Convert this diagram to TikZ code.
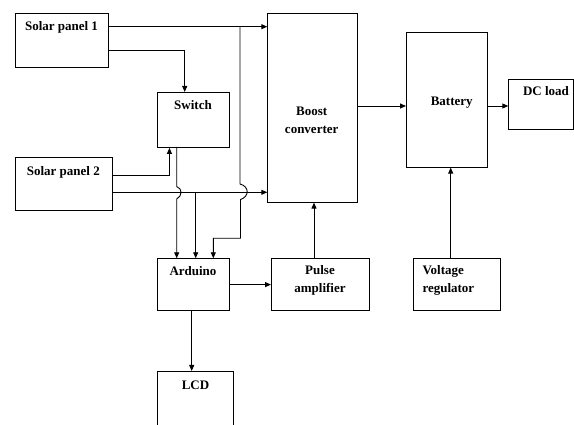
\documentclass[tikz,border=0pt]{standalone}
\usepackage{fontspec}
\setmainfont{Liberation Serif}
\usetikzlibrary{arrows.meta}
\begin{document}
\begin{tikzpicture}[x=1pt,y=-1pt,
  box/.style={draw, line width=0.9pt, inner sep=0pt, anchor=north west},
  lbl/.style={font=\fontsize{13}{15}\selectfont\bfseries, inner sep=0pt, anchor=base},
  arr/.style={line width=0.9pt, -{Triangle[length=6pt,width=5pt]}},
  wire/.style={line width=0.9pt}]
\clip (0,0) rectangle (574,425);
% boxes
\node[box, minimum width=93.4pt, minimum height=54pt] (sp1) at (15,13.3) {};
\node[box, minimum width=97.4pt, minimum height=52.7pt] (sp2) at (15,157.3) {};
\node[box, minimum width=71.7pt, minimum height=55pt] (switch) at (157.3,92) {};
\node[box, minimum width=90pt, minimum height=188.4pt] (boost) at (267.3,13.3) {};
\node[box, minimum width=80.7pt, minimum height=134.4pt] (battery) at (406,32.3) {};
\node[box, minimum width=64.7pt, minimum height=50.6pt] (dcload) at (508.3,78.7) {};
\node[box, minimum width=98.3pt, minimum height=51.7pt] (pulse) at (271,258.3) {};
\node[box, minimum width=86.7pt, minimum height=51.7pt] (vreg) at (413.3,258.3) {};
\node[box, minimum width=71.7pt, minimum height=51.7pt] (arduino) at (157.3,258.3) {};
\node[box, minimum width=75.4pt, minimum height=80pt] (lcd) at (157.3,371) {};
% labels
\node[lbl] (tsp1) at (61.5,31) {Solar panel 1};
\node[lbl] (tsp2) at (63.3,175.5) {Solar panel 2};
\node[lbl] (tsw) at (193,110) {Switch};
\node[lbl] (tb1) at (311.7,116) {Boost};
\node[lbl] (tb2) at (311.7,134) {converter};
\node[lbl] (tbat) at (451.7,106) {Battery};
\node[lbl] (tdc) at (546,96) {DC load};
\node[lbl] (tp1) at (320,275) {Pulse};
\node[lbl] (tp2) at (320,293) {amplifier};
\node[lbl, anchor=base west] (tv1) at (422.3,275) {Voltage};
\node[lbl, anchor=base west] (tv2) at (422.3,293) {regulator};
\node[lbl] (tard) at (193,276) {Arduino};
\node[lbl] (tlcd) at (195.5,389) {LCD};
% helper coordinates
\coordinate (j1) at (240,26.7);
\coordinate (j2) at (195.7,192.3);
\coordinate (s1) at (176.7,147);
\coordinate (k1) at (213.3,238.3);
% connectors
\draw[arr] (sp1.east |- j1) -- (boost.west |- j1);
\draw[arr] (sp1.east |- 0,50) -| ([xshift=-8.9pt]switch.north);
\draw[arr] (sp2.east |- 0,175) -| ([xshift=-24.15pt]switch.south);
\draw[arr] (sp2.east |- j2) -- (boost.west |- j2);
\draw[arr] (s1) -- (176.7,186.5) .. controls (182.5,188.5) and (182.5,196) .. (176.7,199) -- (s1 |- arduino.north);
\draw[arr] (j2) -- (j2 |- arduino.north);
\draw[arr] (j1) -- (240,184) .. controls (249.5,186.5) and (249.5,196.5) .. (240.5,199.5) -- (240.5,238.3) -- (k1) -- (k1 |- arduino.north);
\draw[arr] (arduino.east) -- (pulse.west);
\draw[arr] (pulse.north -| 314,0) -- (boost.south -| 314,0);
\draw[arr] (boost.east |- 0,106) -- (battery.west |- 0,106);
\draw[arr] (battery.east |- 0,106) -- (dcload.west |- 0,106);
\draw[arr] (vreg.north -| 450.7,0) -- (battery.south -| 450.7,0);
\draw[arr] (arduino.south -| 191.7,0) -- (lcd.north -| 191.7,0);
\end{tikzpicture}
\end{document}
